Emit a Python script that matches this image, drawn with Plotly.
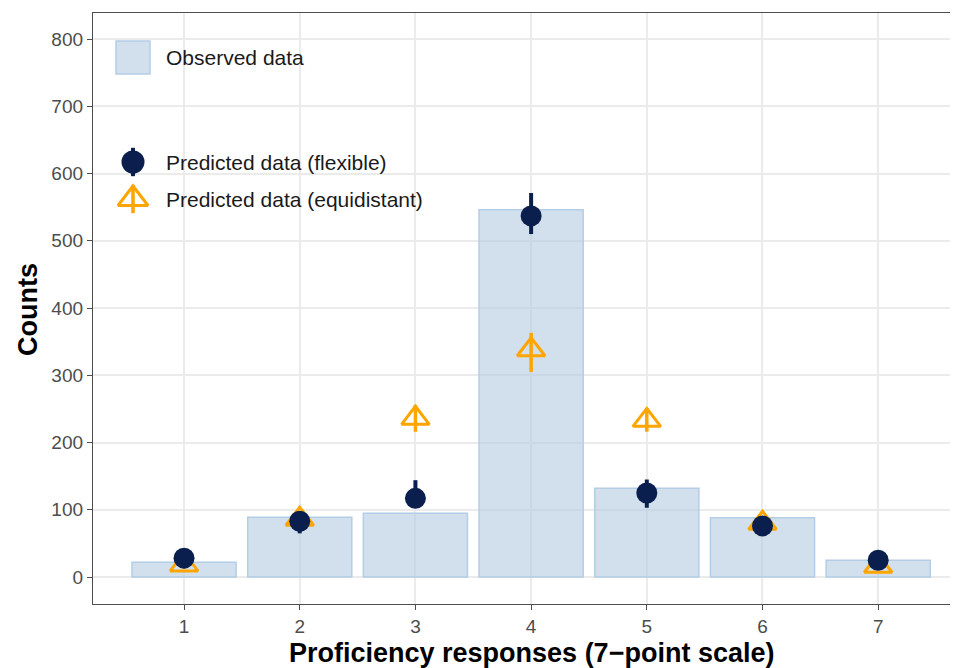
import plotly.graph_objects as go

categories = [1, 2, 3, 4, 5, 6, 7]
observed = [22, 89, 95, 546, 132, 88, 25]
flex_mean = [28, 83, 117, 537, 125, 76, 25]
flex_lo = [20, 65, 103, 510, 103, 68, 18]
flex_hi = [35, 97, 144, 571, 145, 88, 32]
equi_mean = [18, 86, 236, 338, 233, 80, 16]
equi_lo = [12, 76, 216, 305, 216, 72, 11]
equi_hi = [24, 96, 256, 363, 251, 90, 22]
y_ticks = [0, 100, 200, 300, 400, 500, 600, 700, 800]
legend_labels = ["Observed data", "Predicted data (flexible)", "Predicted data (equidistant)"]

NAVY = "#0a1f4d"
ORANGE = "#FFA500"
FONT = "Liberation Sans, Arial, Helvetica, sans-serif"

# plot area in page pixels: x 93..958, y 13..604 (page has 8px body margin)
PW, PH = 865, 591

def px_x(px):
    return (px - 93) / PW

def px_y(py):
    return (604 - py) / PH

fig = go.Figure()
fig.add_trace(go.Bar(
    x=categories, y=observed, width=0.9, name=legend_labels[0],
    marker=dict(color="rgba(180,205,225,0.62)", line=dict(color="#b4cde6", width=1.5)),
    showlegend=False,
))
fig.add_trace(go.Scatter(
    x=categories, y=equi_mean, mode="markers", name=legend_labels[2],
    marker=dict(symbol="triangle-up-open", size=24, color=ORANGE, line=dict(width=3, color=ORANGE)),
    error_y=dict(type="data", symmetric=False,
                 array=[h - m for h, m in zip(equi_hi, equi_mean)],
                 arrayminus=[m - l for m, l in zip(equi_mean, equi_lo)],
                 color=ORANGE, thickness=3.5, width=0),
    showlegend=False,
))
fig.add_trace(go.Scatter(
    x=categories, y=flex_mean, mode="markers", name=legend_labels[1],
    marker=dict(symbol="circle", size=21, color=NAVY),
    error_y=dict(type="data", symmetric=False,
                 array=[h - m for h, m in zip(flex_hi, flex_mean)],
                 arrayminus=[m - l for m, l in zip(flex_mean, flex_lo)],
                 color=NAVY, thickness=4, width=0),
    showlegend=False,
))

# manual legend keys on an overlay axis in plot-fraction units
fig.add_trace(go.Scatter(
    x=[px_x(133)], y=[px_y(199)], mode="markers", xaxis="x2", yaxis="y2", hoverinfo="skip",
    marker=dict(symbol="triangle-up-open", size=26, color=ORANGE, line=dict(width=3, color=ORANGE)),
    error_y=dict(type="constant", value=0.024, color=ORANGE, thickness=3.5, width=0),
    showlegend=False,
))
fig.add_trace(go.Scatter(
    x=[px_x(133)], y=[px_y(162)], mode="markers", xaxis="x2", yaxis="y2", hoverinfo="skip",
    marker=dict(symbol="circle", size=23, color=NAVY),
    error_y=dict(type="constant", value=0.024, color=NAVY, thickness=4, width=0),
    showlegend=False,
))
fig.add_shape(type="rect", xref="paper", yref="paper", x0=px_x(116), x1=px_x(150), y0=px_y(74), y1=px_y(41),
              fillcolor="rgba(180,205,225,0.62)", line=dict(color="#b4cde6", width=1.5))
for lab, yy in zip(legend_labels, [57, 162, 199]):
    fig.add_annotation(x=px_x(164), y=px_y(yy), xref="paper", yref="paper", text=lab, showarrow=False,
                       xanchor="left", yanchor="middle", font=dict(size=21, color="#1a1a1a", family=FONT))

# axis titles
fig.add_annotation(x=px_x(531), y=px_y(653), xref="paper", yref="paper",
                   text="<b>Proficiency responses (7−point scale)</b>",
                   showarrow=False, xanchor="center", yanchor="middle",
                   font=dict(size=27, color="black", family=FONT))
fig.add_annotation(x=px_x(28), y=px_y(310), xref="paper", yref="paper", text="<b>Counts</b>",
                   showarrow=False, textangle=-90, xanchor="center", yanchor="middle",
                   font=dict(size=27, color="black", family=FONT))

fig.update_layout(
    width=950, height=660,
    margin=dict(l=85, r=0, t=5, b=64, autoexpand=False),
    plot_bgcolor="white", paper_bgcolor="white",
    font=dict(family=FONT, size=19, color="#4d4d4d"),
    showlegend=False,
    xaxis=dict(
        range=[0.213, 7.69], tickvals=categories, ticktext=[str(c) for c in categories],
        showgrid=True, gridcolor="#EBEBEB", gridwidth=1.5,
        showline=True, linecolor="#4d4d4d", linewidth=1.3, mirror=True,
        ticks="outside", ticklen=5, tickcolor="#4d4d4d", tickwidth=1.3,
        tickfont=dict(size=19, color="#4d4d4d"), automargin=False,
        zeroline=False,
    ),
    yaxis=dict(
        range=[-40.1, 838.7], tickvals=y_ticks,
        showgrid=True, gridcolor="#EBEBEB", gridwidth=1.5,
        showline=True, linecolor="#4d4d4d", linewidth=1.3, mirror=False,
        ticks="outside", ticklen=5, tickcolor="#4d4d4d", tickwidth=1.3,
        tickfont=dict(size=19, color="#4d4d4d"), automargin=False,
        zeroline=False,
    ),
    xaxis2=dict(range=[0, 1], overlaying="x", visible=False, fixedrange=True),
    yaxis2=dict(range=[0, 1], overlaying="y", visible=False, fixedrange=True),
)

fig.write_html("out.html")
